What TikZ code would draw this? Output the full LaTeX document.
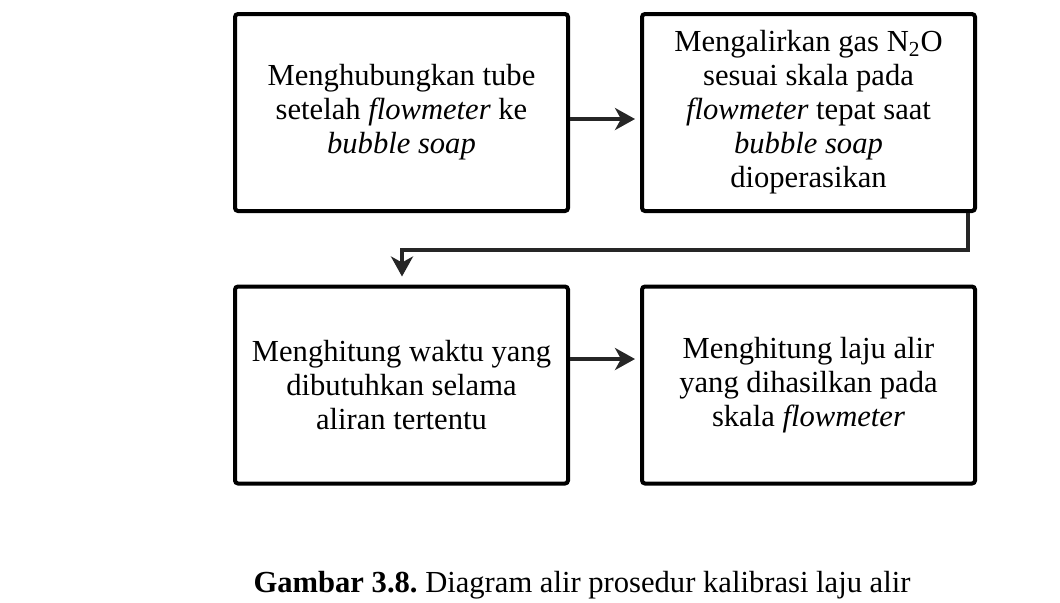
\documentclass[tikz,border=0pt]{standalone}
\usepackage{fontspec}
\setmainfont{Liberation Serif}
\usetikzlibrary{arrows.meta}
\begin{document}
\frenchspacing
\begin{tikzpicture}[x=0.5pt,y=-0.5pt,
  stepbox/.style={draw=black, line width=2pt, rounded corners=1.5pt,
    minimum width=166.5pt, minimum height=98.5pt, align=center,
    inner sep=0pt, font=\fontsize{15.3}{17}\selectfont},
  flow/.style={line width=2pt, draw=black!85,
    -{Stealth[length=10pt,width=11pt,inset=3pt]}}]
\useasboundingbox (0,0) rectangle (1060,602);
\node[stepbox] (b1) at (401.5,112.5) {Menghubungkan tube\\setelah \textit{flowmeter} ke\\\textit{bubble soap}};
\node[stepbox] (b2) at (808.5,112.5) {Mengalirkan gas N\textsubscript{2}O\\sesuai skala pada\\\textit{flowmeter} tepat saat\\\textit{bubble soap}\\dioperasikan};
\node[stepbox] (b3) at (401.5,385) {Menghitung waktu yang\\dibutuhkan selama\\aliran tertentu};
\node[stepbox] (b4) at (808.5,385) {Menghitung laju alir\\yang dihasilkan pada\\skala \textit{flowmeter}};
\coordinate (k1) at (968,250);
\coordinate (k2) at (402,250);
\draw[flow, shorten >=2.5pt] (b1.east |- 0,119) -- (b2.west |- 0,119);
\draw[flow, shorten >=2.5pt] (b3.east |- 0,359) -- (b4.west |- 0,359);
\draw[flow, shorten >=4pt] (b2.south -| k1) -- (k1) -- (k2) -- (k2 |- b3.north);
\node[font=\fontsize{15.3}{17}\selectfont] (cap) at (582,585) {\textbf{Gambar 3.8.} Diagram alir prosedur kalibrasi laju alir};
\end{tikzpicture}
\end{document}
